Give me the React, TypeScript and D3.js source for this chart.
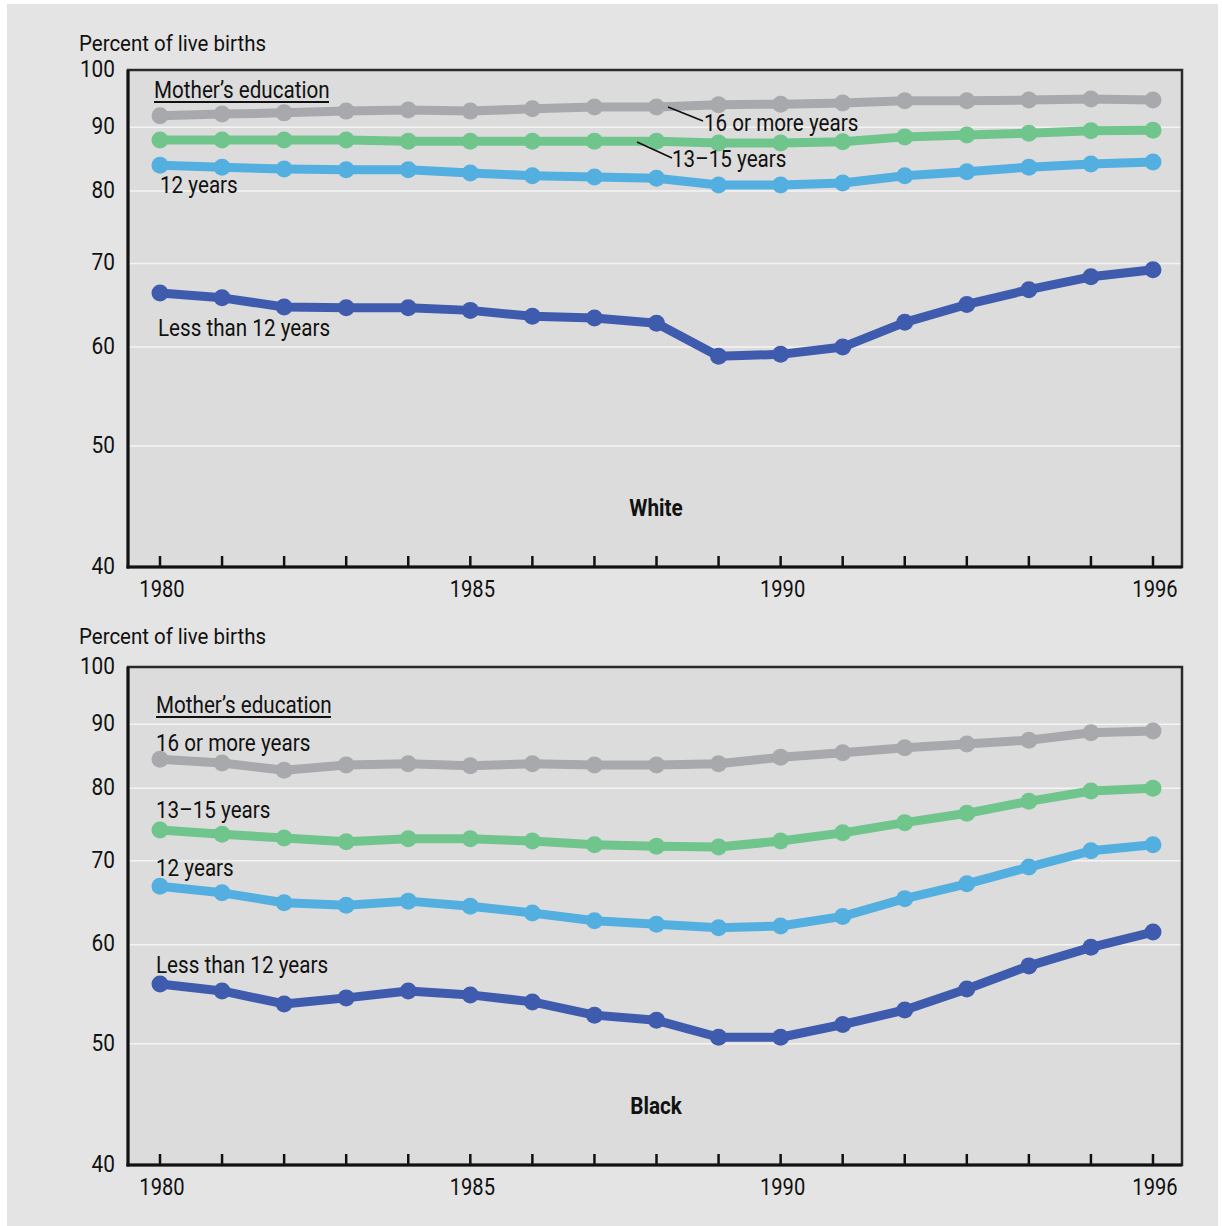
import React from "react";
import * as d3 from "d3";

const years = d3.range(1980, 1997);
const seriesNames = ["16 or more years", "13–15 years", "12 years", "Less than 12 years"];
const seriesColors = ["#a8a9ad", "#6fc58c", "#54afe1", "#3f5bae"];

const whiteGrad16 = [91.9, 92.2, 92.4, 92.7, 92.9, 92.7, 93.1, 93.4, 93.4, 93.8, 93.9, 94.1, 94.5, 94.5, 94.6, 94.8, 94.6];
const white13_15 = [87.9, 87.9, 87.9, 87.9, 87.7, 87.7, 87.7, 87.7, 87.7, 87.4, 87.4, 87.6, 88.4, 88.7, 89.0, 89.4, 89.5];
const white12 = [83.9, 83.6, 83.3, 83.2, 83.2, 82.7, 82.3, 82.1, 81.9, 80.9, 80.9, 81.2, 82.3, 82.9, 83.6, 84.1, 84.4];
const whiteLess12 = [66.3, 65.7, 64.6, 64.5, 64.5, 64.2, 63.5, 63.3, 62.7, 59.0, 59.2, 60.0, 62.8, 64.9, 66.7, 68.3, 69.2];

const blackGrad16 = [84.4, 83.8, 82.7, 83.5, 83.7, 83.4, 83.7, 83.5, 83.5, 83.7, 84.7, 85.4, 86.2, 86.8, 87.4, 88.6, 88.9];
const black13_15 = [74.1, 73.5, 73.0, 72.5, 72.9, 72.9, 72.6, 72.1, 71.9, 71.8, 72.6, 73.7, 75.1, 76.4, 78.1, 79.6, 80.0];
const black12 = [66.8, 66.0, 64.8, 64.5, 65.0, 64.4, 63.6, 62.7, 62.3, 61.9, 62.1, 63.2, 65.3, 67.1, 69.2, 71.3, 72.1];
const blackLess12 = [55.8, 55.1, 53.8, 54.4, 55.1, 54.7, 54.0, 52.7, 52.2, 50.6, 50.6, 51.8, 53.2, 55.3, 57.7, 59.7, 61.4];

const yTicks = [40, 50, 60, 70, 80, 90, 100];
const gridTicks = [50, 60, 70, 80, 90];
const xLabelYears = [1980, 1985, 1990, 1996];

const FONT = "'Roboto', 'Liberation Sans', sans-serif";

function T({ x, y, children, size = 23, sx = 0.86, anchor = "start", weight = "normal", dy }: {
  x: number; y: number; children: React.ReactNode; size?: number; sx?: number; anchor?: string; weight?: string; dy?: string;
}) {
  return (
    <text
      transform={`translate(${x},${y}) scale(${sx},1)`}
      dy={dy}
      textAnchor={anchor as any}
      fontSize={size}
      fontWeight={weight}
      fontFamily={FONT}
      fill="#111"
    >
      {children}
    </text>
  );
}

type LabelSpec = { text: string; x: number; y: number; leader?: [number, number, number, number] };

function Panel({ top, bottom, series, title, labels, legendY, legendX, titleY }: {
  top: number; bottom: number; series: number[][]; title: string; labels: LabelSpec[]; legendY: number; legendX: number; titleY: number;
}) {
  const left = 128, right = 1182;
  const x = d3.scaleLinear().domain([1980, 1996]).range([160, 1153]);
  const y = d3.scaleLog().domain([40, 100]).range([bottom, top]);
  const line = d3.line<number>().x((_, i) => x(years[i])).y((d) => y(d));
  return (
    <g>
      <rect x={left} y={top} width={right - left} height={bottom - top} fill="#dcdcdc" />
      {gridTicks.map((t) => (
        <line key={t} x1={left} x2={right} y1={y(t)} y2={y(t)} stroke="#f4f4f4" strokeWidth={1.5} />
      ))}
      {yTicks.map((t) => (
        <T key={t} x={115} y={y(t) - 2} dy="0.36em" anchor="end" size={24.5} sx={0.85}>{t}</T>
      ))}
      <T x={79} y={titleY} size={22.5} sx={0.91}>Percent of live births</T>
      {years.map((yr) => (
        <line key={yr} x1={x(yr)} x2={x(yr)} y1={bottom} y2={bottom - 11} stroke="#111" strokeWidth={2.5} />
      ))}
      {xLabelYears.map((yr) => (
        <T key={yr} x={x(yr) + 2} y={bottom + 30} anchor="middle" size={24} sx={0.84}>{yr}</T>
      ))}
      {series.map((s, k) => (
        <g key={k}>
          <path d={line(s) || ""} fill="none" stroke={seriesColors[k]} strokeWidth={9} strokeLinejoin="round" />
          {s.map((v, i) => (
            <circle key={i} cx={x(years[i])} cy={y(v)} r={8.5} fill={seriesColors[k]} />
          ))}
        </g>
      ))}
      <rect x={left} y={top} width={right - left} height={bottom - top} fill="none" stroke="#2a2a2a" strokeWidth={2.5} />
      <line x1={left} x2={left} y1={top} y2={bottom + 1.5} stroke="#111" strokeWidth={3} />
      <line x1={left - 1.5} x2={right} y1={bottom} y2={bottom} stroke="#111" strokeWidth={3} />
      <T x={legendX} y={legendY} size={24} sx={0.86}>Mother’s education</T>
      <line x1={legendX} x2={legendX + 175} y1={legendY + 4} y2={legendY + 4} stroke="#111" strokeWidth={1.8} />
      {labels.map((l, i) => (
        <g key={i}>
          {l.leader && (
            <line x1={l.leader[0]} y1={l.leader[1]} x2={l.leader[2]} y2={l.leader[3]} stroke="#111" strokeWidth={1.8} />
          )}
          <T x={l.x} y={l.y} size={24} sx={0.86}>{l.text}</T>
        </g>
      ))}
      <T x={656} y={bottom - 51} anchor="middle" size={23} sx={0.9} weight="bold">{title}</T>
    </g>
  );
}

export default function App() {
  return (
    <div style={{ position: "absolute", left: 0, top: 0 }}>
      <svg width={1222} height={1226} style={{ display: "block" }}>
        <rect x={0} y={0} width={1222} height={1226} fill="#ffffff" />
        <rect x={7} y={4} width={1211} height={1222} fill="#e4e4e4" />
        <Panel
          top={70}
          bottom={567}
          titleY={51}
          series={[whiteGrad16, white13_15, white12, whiteLess12]}
          title="White"
          legendX={154}
          legendY={98}
          labels={[
            { text: seriesNames[0], x: 704, y: 131, leader: [668, 107, 703, 121] },
            { text: seriesNames[1], x: 672, y: 167, leader: [637, 142, 672, 158] },
            { text: seriesNames[2], x: 160, y: 193 },
            { text: seriesNames[3], x: 158, y: 336 },
          ]}
        />
        <Panel
          top={667}
          bottom={1165}
          titleY={644}
          series={[blackGrad16, black13_15, black12, blackLess12]}
          title="Black"
          legendX={156}
          legendY={713}
          labels={[
            { text: seriesNames[0], x: 156, y: 751 },
            { text: seriesNames[1], x: 156, y: 818 },
            { text: seriesNames[2], x: 156, y: 876 },
            { text: seriesNames[3], x: 156, y: 973 },
          ]}
        />
      </svg>
    </div>
  );
}
